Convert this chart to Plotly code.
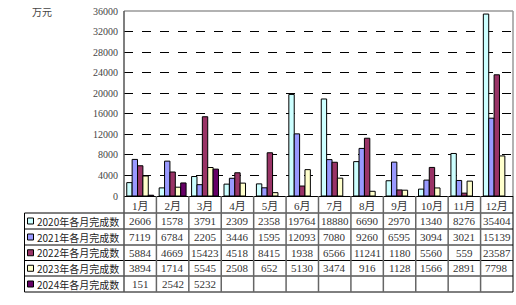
import plotly.graph_objects as go

months = ["1月", "2月", "3月", "4月", "5月", "6月", "7月", "8月", "9月", "10月", "11月", "12月"]
series_names = ["2020年各月完成数", "2021年各月完成数", "2022年各月完成数", "2023年各月完成数", "2024年各月完成数"]
v2020 = [2606, 1578, 3791, 2309, 2358, 19764, 18880, 6690, 2970, 1340, 8276, 35404]
v2021 = [7119, 6784, 2205, 3446, 1595, 12093, 7080, 9260, 6595, 3094, 3021, 15139]
v2022 = [5884, 4669, 15423, 4518, 8415, 1938, 6566, 11241, 1180, 5560, 559, 23587]
v2023 = [3894, 1714, 5545, 2508, 652, 5130, 3474, 916, 1128, 1566, 2891, 7798]
v2024 = [151, 2542, 5232]
colors = ["#CCFFFF", "#9999FF", "#993366", "#FFFFCC", "#660066"]
yticks = list(range(0, 36001, 4000))

all_series = [v2020, v2021, v2022, v2023, v2024]

W, H = 516, 305
L, R, T, B = 124, 513, 11, 196  # plot area pixels
pw, ph = R - L, B - T

def px(x):
    return (x - L) / pw

def py(y):
    return (B - y) / ph

fig = go.Figure()
for name, vals, c in zip(series_names, all_series, colors):
    fig.add_trace(go.Bar(
        x=months[:len(vals)], y=vals, name=name,
        marker=dict(color=c, line=dict(color="#000000", width=1)),
        showlegend=False,
    ))

font_fam = "Liberation Serif, Noto Sans CJK SC, serif"
shapes = []
annotations = []

# plot border (top/right gray)
shapes.append(dict(type="line", xref="paper", yref="paper", x0=0, x1=1, y0=1, y1=1,
                   line=dict(color="#999999", width=1.5), layer="above"))
shapes.append(dict(type="line", xref="paper", yref="paper", x0=1, x1=1, y0=0, y1=1,
                   line=dict(color="#999999", width=1.5), layer="above"))

# table geometry
row_lines = [213, 229, 245, 260.5, 276, 292]
tbl_left = 24.5
for yl in row_lines:
    shapes.append(dict(type="line", xref="paper", yref="paper", x0=px(tbl_left), x1=px(R),
                       y0=py(yl), y1=py(yl), line=dict(color="#000000", width=1)))
shapes.append(dict(type="line", xref="paper", yref="paper", x0=px(tbl_left), x1=px(tbl_left),
                   y0=py(row_lines[0]), y1=py(row_lines[-1]), line=dict(color="#000000", width=1)))
shapes.append(dict(type="line", xref="paper", yref="paper", x0=px(L), x1=px(L),
                   y0=py(row_lines[-1]), y1=py(T), line=dict(color="#555555", width=1.5)))
shapes.append(dict(type="line", xref="paper", yref="paper", x0=px(R), x1=px(R),
                   y0=py(row_lines[-1]), y1=py(B), line=dict(color="#000000", width=1)))
n = len(months)
for k in range(1, n):
    xk = k / n
    shapes.append(dict(type="line", xref="paper", yref="paper", x0=xk, x1=xk,
                       y0=py(row_lines[-1]), y1=py(B), line=dict(color="#666666", width=1.5)))

for r, (name, vals, c) in enumerate(zip(series_names, all_series, colors)):
    y0, y1 = row_lines[r], row_lines[r + 1]
    yc = (y0 + y1) / 2
    shapes.append(dict(type="rect", xref="paper", yref="paper",
                       x0=px(27.5), x1=px(33.5), y0=py(yc + 3), y1=py(yc - 3),
                       fillcolor=c, line=dict(color="#000000", width=1)))
    annotations.append(dict(text=name, xref="paper", yref="paper", x=px(35), y=py(yc),
                            xanchor="left", yanchor="middle", showarrow=False,
                            font=dict(family="Noto Sans CJK SC", size=10, color="#222222")))
    for m, v in zip(months, vals):
        annotations.append(dict(text=str(v), xref="x", yref="paper", x=m, y=py(yc),
                                xanchor="center", yanchor="middle", showarrow=False,
                                font=dict(family=font_fam, size=11, color="#333333")))

annotations.append(dict(text="万元", xref="paper", yref="paper", x=px(42), y=py(12),
                        xanchor="center", yanchor="middle", showarrow=False,
                        font=dict(family="Noto Sans CJK SC", size=10, color="#444444")))

fig.update_layout(
    width=W, height=H,
    margin=dict(l=L, r=W - R, t=T, b=H - B, pad=0),
    paper_bgcolor="white", plot_bgcolor="white",
    barmode="group", bargap=0.17, bargroupgap=0,
    shapes=shapes, annotations=annotations,
    xaxis=dict(
        categoryorder="array", categoryarray=months,
        showgrid=False, showline=True, linecolor="#000000", linewidth=1,
        ticks="", tickfont=dict(family=font_fam, size=11, color="#333333"),
        ticklabelstandoff=0,
    ),
    yaxis=dict(
        range=[0, 36000], tickvals=yticks, ticktext=[str(t) for t in yticks],
        showgrid=True, gridcolor="#000000", gridwidth=1, griddash="dash",
        showline=False, zeroline=False,
        ticks="", tickfont=dict(family=font_fam, size=10, color="#444444"),
        ticklabelstandoff=5,
    ),
)

fig.write_html("out.html")
